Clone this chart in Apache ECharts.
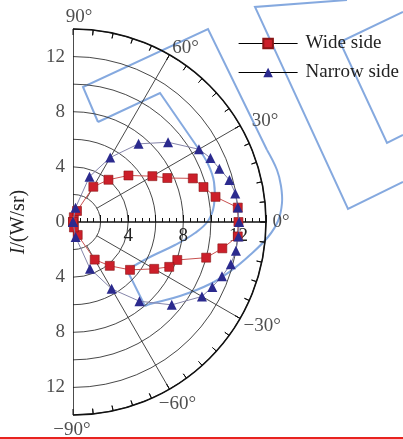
<!DOCTYPE html>
<html><head><meta charset="utf-8">
<script src="https://cdn.jsdelivr.net/npm/echarts@6/dist/echarts.min.js"></script>
<style>html,body{margin:0;padding:0;background:#fff}#c{width:403px;height:439px}</style>
</head><body><div id="c"></div>
<script>
const angles = [90,80,70,60,50,40,30,25,20,15,10,5,0,-5,-10,-15,-20,-25,-30,-40,-50,-60,-70,-80,-90];
const wideSide = [0,0.35,0.85,2.95,4.0,5.25,6.65,7.55,9.25,9.8,10.5,12.0,12.0,12.0,11.0,10.0,8.05,7.7,6.8,5.4,4.15,3.15,1.0,0.4,0];
const narrowSide = [0,1.05,3.5,5.4,7.4,9.0,10.55,11.0,11.3,11.75,11.95,12.0,12.05,12.05,12.0,11.85,11.5,11.15,10.8,9.35,7.5,5.6,3.6,1.1,0];
const seriesNames = ['Wide side','Narrow side'];
const radiusTickLabels = [4,8,12];
const sideTickLabels = [12,8,4,0];
const angleTickLabels = [90,60,30,0,-30,-60,-90];
const spokeAngles = [60,30,-30,-60];
const rMax = 14;

const FONT = '"Liberation Serif","DejaVu Serif",serif';
const CX = 73, CY = 222, R = 193;

const chart = echarts.init(document.getElementById('c'), null, {renderer:'canvas'});

const angleLabelOffset = {
  '90':[6,-12], '60':[16,-7], '30':[25,-4], '0':[15,0],
  '-30':[22,8], '-60':[8,15], '-90':[-1,15]
};

const sidePts = [];
sideTickLabels.forEach(v => { sidePts.push([v, 90]); if (v !== 0) sidePts.push([v, -90]); });

// arc tick marks every 6 degrees (axis furniture)
const arcTicks = [];
for (let a = -84; a <= 84; a += 6) { arcTicks.push([rMax - 0.4, a], [rMax, a], ['-', '-']); }

const series = [];
spokeAngles.forEach(a => {
  series.push({type:'line', coordinateSystem:'polar', polarIndex:0, silent:true, symbol:'none',
    lineStyle:{color:'#333', width:0.9}, data:[[2,a],[rMax,a]], z:1});
});
series.push({type:'line', coordinateSystem:'polar', polarIndex:0, silent:true, symbol:'none',
  connectNulls:false, lineStyle:{color:'#111', width:1}, data:arcTicks, z:2});
series.push({type:'line', coordinateSystem:'polar', polarIndex:0, silent:true, symbol:'none',
  lineStyle:{color:'#111', width:1.5}, data:[[rMax,90],[rMax,-90]], z:2});
series.push({type:'scatter', coordinateSystem:'polar', polarIndex:0, silent:true, symbolSize:0,
  data: sidePts, label:{show:true, position:'left', distance:8, formatter:p=>String(p.value[0]),
  fontFamily:FONT, fontSize:19, color:'#222'}});
series.push({type:'scatter', coordinateSystem:'polar', polarIndex:0, silent:true, symbolSize:0,
  data: angleTickLabels.map(a => ({value:[rMax,a], label:{offset: angleLabelOffset[String(a)]}})),
  label:{show:true, position:'inside', align:'center', verticalAlign:'middle',
  formatter:p=>(p.value[1] < 0 ? '\u2212' + (-p.value[1]) : p.value[1]) + '°',
  fontFamily:FONT, fontSize:19, color:'#222'}});
series.push({name:seriesNames[0], type:'line', coordinateSystem:'polar', polarIndex:0,
  data: angles.map((a,i)=>[wideSide[i], a]), symbol:'rect', symbolSize:9,
  lineStyle:{color:'#c8504f', width:1},
  itemStyle:{color:'#cc1f2a', borderColor:'#8a1616', borderWidth:0.6}, z:5});
series.push({name:seriesNames[1], type:'line', coordinateSystem:'polar', polarIndex:0,
  data: angles.map((a,i)=>[narrowSide[i], a]), symbol:'triangle', symbolSize:10,
  lineStyle:{color:'#8585aa', width:1},
  itemStyle:{color:'#2b2a8e'}, z:6});

const WM = {stroke:'rgba(120,160,220,0.9)', lineWidth:2, fill:null};
const wm = [
  {type:'polyline', shape:{points:[[98,122],[83,87],[208,29],[267,150]]}, style:WM},
  {type:'polyline', shape:{smooth:0.4, points:[[267,150],[277,170],[281,186],[282,203],[278,221],[268,237],[250,255],[232,270],[210,284],[180,296],[150,304],[145,306]]}, style:WM},
  {type:'polyline', shape:{points:[[145,306],[127,270]]}, style:WM},
  {type:'polyline', shape:{smooth:0.4, points:[[127,270],[150,257],[175,245],[195,233],[208,221],[214,205],[214,182],[208,164],[198,148]]}, style:WM},
  {type:'polyline', shape:{points:[[198,148],[160,93],[98,122]]}, style:WM},
  {type:'polyline', shape:{points:[[347,0],[255,7],[348,209],[403,182]]}, style:WM},
  {type:'polyline', shape:{points:[[403,12],[340,42],[387,143],[403,135]]}, style:WM}
];

chart.setOption({
  animation:false,
  backgroundColor:'#fff',
  legend:{
    left:233, top:29, orient:'vertical', itemWidth:59, itemHeight:12, itemGap:10,
    data:seriesNames,
    lineStyle:{color:'#000', width:1.2},
    textStyle:{fontFamily:FONT, fontSize:19, color:'#222', padding:[0,0,0,3]}
  },
  polar:[{center:[CX,CY], radius:R}],
  angleAxis:[{polarIndex:0, type:'value', min:-90, max:90, interval:30,
    startAngle:-90, endAngle:90, clockwise:false,
    axisLine:{show:true, lineStyle:{color:'#111', width:1.6}},
    axisTick:{show:true, inside:true, length:6, lineStyle:{color:'#111', width:1}},
    minorTick:{show:true, splitNumber:5, length:5, lineStyle:{color:'#111', width:1}},
    axisLabel:{show:false}, splitLine:{show:false}}],
  radiusAxis:[{polarIndex:0, type:'value', min:0, max:rMax, interval:2,
    axisLine:{show:false}, axisTick:{show:false}, axisLabel:{show:false},
    splitLine:{show:true, lineStyle:{color:'#333', width:0.9}}}],
  grid:{left:CX, width:R, top:100, bottom:439-CY},
  xAxis:{type:'value', min:0, max:rMax, interval:2, position:'bottom',
    axisLine:{show:true, lineStyle:{color:'#111', width:1.5}},
    axisTick:{show:true, inside:true, length:7, lineStyle:{color:'#111'}},
    minorTick:{show:true, splitNumber:4, length:4, lineStyle:{color:'#111'}},
    splitLine:{show:false},
    axisLabel:{margin:5, fontFamily:FONT, fontSize:19, color:'#222',
      formatter:v=>radiusTickLabels.includes(v)?String(v):''}},
  yAxis:{type:'value', show:false, min:0, max:1},
  graphic:[
    {type:'text', x:19, y:222, rotation:Math.PI/2,
      style:{text:'{i|I}/(W/sr)', fontFamily:FONT, fontSize:20, fill:'#222', align:'center', verticalAlign:'middle',
        rich:{i:{fontStyle:'italic', fontFamily:FONT, fontSize:20, fill:'#222'}}}},
    {type:'line', shape:{x1:0,y1:438,x2:403,y2:438}, style:{stroke:'#e8231f', lineWidth:2}},
    {type:'group', z:100, silent:true, children:wm}
  ],
  series: series
});
</script></body></html>
